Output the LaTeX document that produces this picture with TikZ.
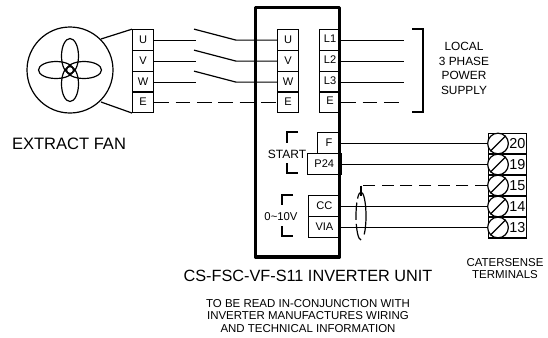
\documentclass[tikz,border=0pt]{standalone}
\usepackage{fontspec}
\setmainfont{Liberation Sans}
\tikzset{
  x=0.75pt,y=-0.75pt,
  wire/.style={line width=0.9pt},
  dwire/.style={line width=0.9pt,dash pattern=on 11pt off 5pt},
  dwshort/.style={line width=0.9pt,dash pattern=on 9pt off 5pt},
  cell/.style={draw,line width=0.9pt,minimum width=15.75pt,minimum height=15.5pt,inner sep=0pt,font=\fontsize{8.3}{9}\selectfont,anchor=north west},
  lab/.style={inner sep=0pt,align=center},
}
\begin{document}
\begin{tikzpicture}
\useasboundingbox (0,0) rectangle (548,337);
% fan
\node[draw,circle,line width=0.9pt,minimum size=64.5pt,inner sep=0pt] (fan) at (70,70) {};
\draw[line width=0.9pt] (70,56) ellipse [x radius=8.5,y radius=17.5];
\draw[line width=0.9pt] (70,84) ellipse [x radius=8.5,y radius=17.5];
\draw[line width=0.9pt] (56,70) ellipse [x radius=17.5,y radius=8.5];
\draw[line width=0.9pt] (84,70) ellipse [x radius=17.5,y radius=8.5];
% fan terminals
\foreach \n/\t/\y in {U/U/29.17,V/V/50.17,W/W/71.17,E/E/91.17}{
  \node[cell] (m\n) at (132,\y) {\t};
  \node[cell] (i\n) at (277,\y) {\t};
}
\foreach \n/\t/\y in {A/L1/29.17,B/L2/50.17,C/L3/71.17,D/E/91.17}{
  \node[cell] (l\n) at (319,\y) {\raisebox{2pt}{\t}};
}
\coordinate (ft) at (101,39);
\coordinate (fb) at (101,102);
\draw[wire] (ft) -- (mU.north west) (fb) -- (mE.south west);
% switched wires
\foreach \n in {U,V,W}{
  \draw[wire] (mU.east |- m\n.east) -- ++(42,0) coordinate (s\n);
  \draw[wire] (iU.west |- m\n.east) -- ++(-41,0) coordinate (t\n) -- ++(-42,-11);
}
\draw[dwire] (mE.east) -- (iE.west);
% inverter body
\draw[line width=2.4pt,line join=round] (255.5,7.5) rectangle (339.5,257);
% supply
\foreach \n in {A,B,C}{ \draw[wire] (lD.east |- l\n.east) -- ++(63,0); }
\draw[dwire] (lD.east) -- ++(63,0);
\draw[line width=0.9pt] (412,29) -- (423,29) -- (423,112) -- (412,112);
\node[lab,font=\fontsize{8.9}{11}\selectfont] (sup) at (464,68.5) {LOCAL\\3 PHASE\\POWER\\SUPPLY};
\node[lab,font=\fontsize{12.4}{14}\selectfont] (fanl) at (69,144) {EXTRACT FAN};
% control boxes
\node[cell,minimum width=17pt] (F) at (317,132) {F};
\node[cell,minimum width=25pt] (P) at (307,153) {P24};
\node[cell,minimum width=24.5pt] (CC) at (307.5,195) {CC};
\node[cell,minimum width=24.5pt] (VIA) at (307.5,216) {VIA};
\draw[line width=0.9pt] (298,132) -- (287,132) -- (287,143) (287,163) -- (287,173) -- (298,173);
\draw[line width=0.9pt] (293,195) -- (282,195) -- (282,205) (282,226) -- (282,236) -- (293,236);
\node[lab,font=\fontsize{9}{10}\selectfont] (st) at (287,154) {START};
\node[lab,font=\fontsize{8.5}{10}\selectfont] (v) at (281,217) {0\textasciitilde 10V};
% terminals
\foreach \n/\t/\y in {a/20/133,b/19/154,c/15/175,d/14/196,e/13/217}{
  \node[draw,line width=0.9pt,minimum width=28.5pt,minimum height=15.3pt,inner sep=0pt,anchor=north west] (T\n) at (488,\y) {};
  \node[draw,circle,fill=white,line width=0.9pt,minimum size=15.5pt,inner sep=0pt] (C\n) at (498,\y+10.5) {};
  \draw[line width=0.9pt] (C\n.225) -- (C\n.45);
  \node[lab,anchor=west,font=\fontsize{10.8}{12}\selectfont] (N\n) at (509,\y+10.5) {\t};
}
\draw[wire] (F.east |- Ca.west) -- (Ca.west);
\draw[wire] (P.east |- Cb.west) -- (Cb.west);
\draw[wire] (CC.east |- Cd.west) -- (Cd.west);
\draw[wire] (VIA.east |- Ce.west) -- (Ce.west);
\coordinate (dw) at (361,196);
\draw[dwshort] (Cc.west) -- (dw |- Cc.west);
\draw[wire] (dw |- Cc.west) -- (dw);
\draw[line width=0.9pt] (361,192) arc[start angle=-90,end angle=50,x radius=5,y radius=24];
\draw[line width=0.9pt,dash pattern=on 13pt off 3pt] (361,240) arc[start angle=90,end angle=270,x radius=5,y radius=24];
% captions
\node[lab,font=\fontsize{12.2}{14}\selectfont] (cap) at (308,276) {CS-FSC-VF-S11 INVERTER UNIT};
\node[lab,font=\fontsize{8.6}{9.6}\selectfont] (nt) at (308,316) {TO BE READ IN-CONJUNCTION WITH\\INVERTER MANUFACTURES WIRING\\AND TECHNICAL INFORMATION};
\node[lab,font=\fontsize{8.6}{9}\selectfont] (ct) at (505,269) {CATERSENSE\\TERMINALS};
\end{tikzpicture}
\end{document}
